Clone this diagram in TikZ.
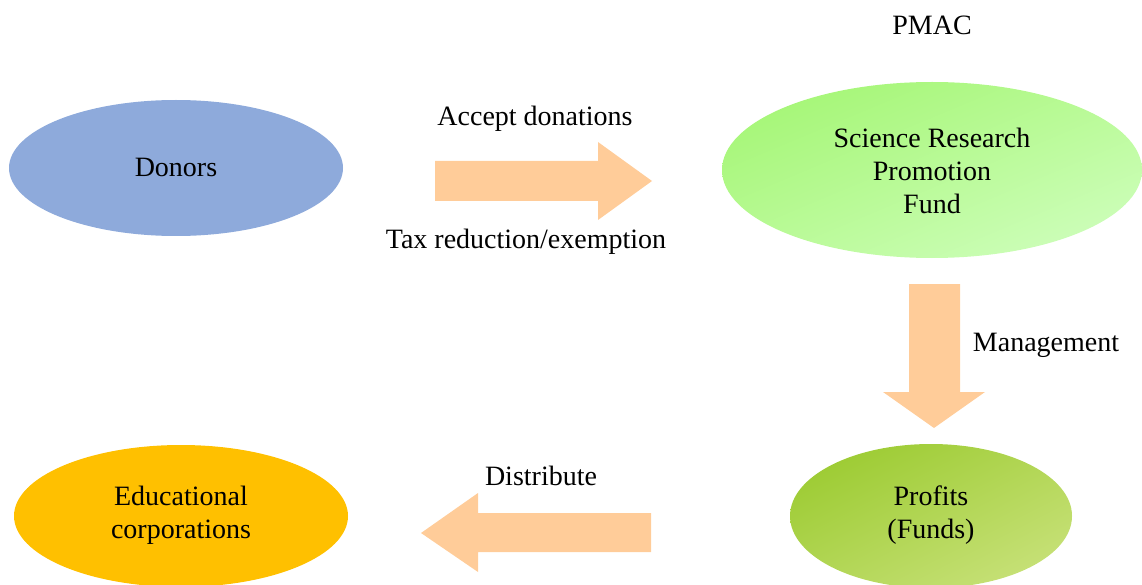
\documentclass[tikz,border=0pt]{standalone}
\usepackage{fontspec}
\setmainfont{Liberation Serif}
\usetikzlibrary{shadings}
\begin{document}
\begin{tikzpicture}[x=1pt,y=-1pt,
  lbl/.style={font=\fontsize{28}{33}\selectfont, align=center, inner sep=0pt},
  blockarrow/.style={fill=arrowfill, draw=none}]
\definecolor{arrowfill}{RGB}{255,204,153}
\definecolor{donorblue}{RGB}{142,170,219}
\definecolor{eduyellow}{RGB}{255,192,0}
\definecolor{fundA}{RGB}{160,245,110}
\definecolor{fundB}{RGB}{185,250,150}
\definecolor{fundC}{RGB}{210,255,195}
\definecolor{profA}{RGB}{150,200,40}
\definecolor{profB}{RGB}{178,214,85}
\definecolor{profC}{RGB}{205,228,130}
\useasboundingbox (0,0) rectangle (1142,585);
% ellipses
\fill[donorblue] (176,168) ellipse [x radius=167, y radius=68];
\shade[upper left=fundA, lower right=fundC, upper right=fundB, lower left=fundB]
  (932,170) ellipse [x radius=210, y radius=88];
\shade[upper left=profA, lower right=profC, upper right=profB, lower left=profB]
  (931,516) ellipse [x radius=141, y radius=72];
\fill[eduyellow] (181,516) ellipse [x radius=167, y radius=71];
% nodes (texts)
\node[lbl] (donors) at (176,167) {Donors};
\node[lbl] (fund) at (932,171) {Science Research\\Promotion\\Fund};
\node[lbl] (profits) at (931,515) {Profits\\(Funds)};
\node[lbl] (edu) at (181,515) {Educational\\corporations};
\node[lbl] (pmac) at (932,25) {PMAC};
\node[lbl] (accept) at (535,119) {Accept donations};
\node[lbl] (tax) at (526,242) {Tax reduction/exemption};
\node[lbl] (mgmt) at (1046,345) {Management};
\node[lbl] (dist) at (541,476) {Distribute};
% block arrows
\fill[blockarrow] (435,161) -- (598,161) -- (598,142) -- (652,181) -- (598,220) -- (598,201) -- (435,201) -- cycle;
\fill[blockarrow] (909,284) -- (960,284) -- (960,392) -- (985,392) -- (934,428) -- (883,392) -- (909,392) -- cycle;
\fill[blockarrow] (651,513) -- (478,513) -- (478,493) -- (421,533) -- (478,572) -- (478,552) -- (651,552) -- cycle;
\end{tikzpicture}
\end{document}
